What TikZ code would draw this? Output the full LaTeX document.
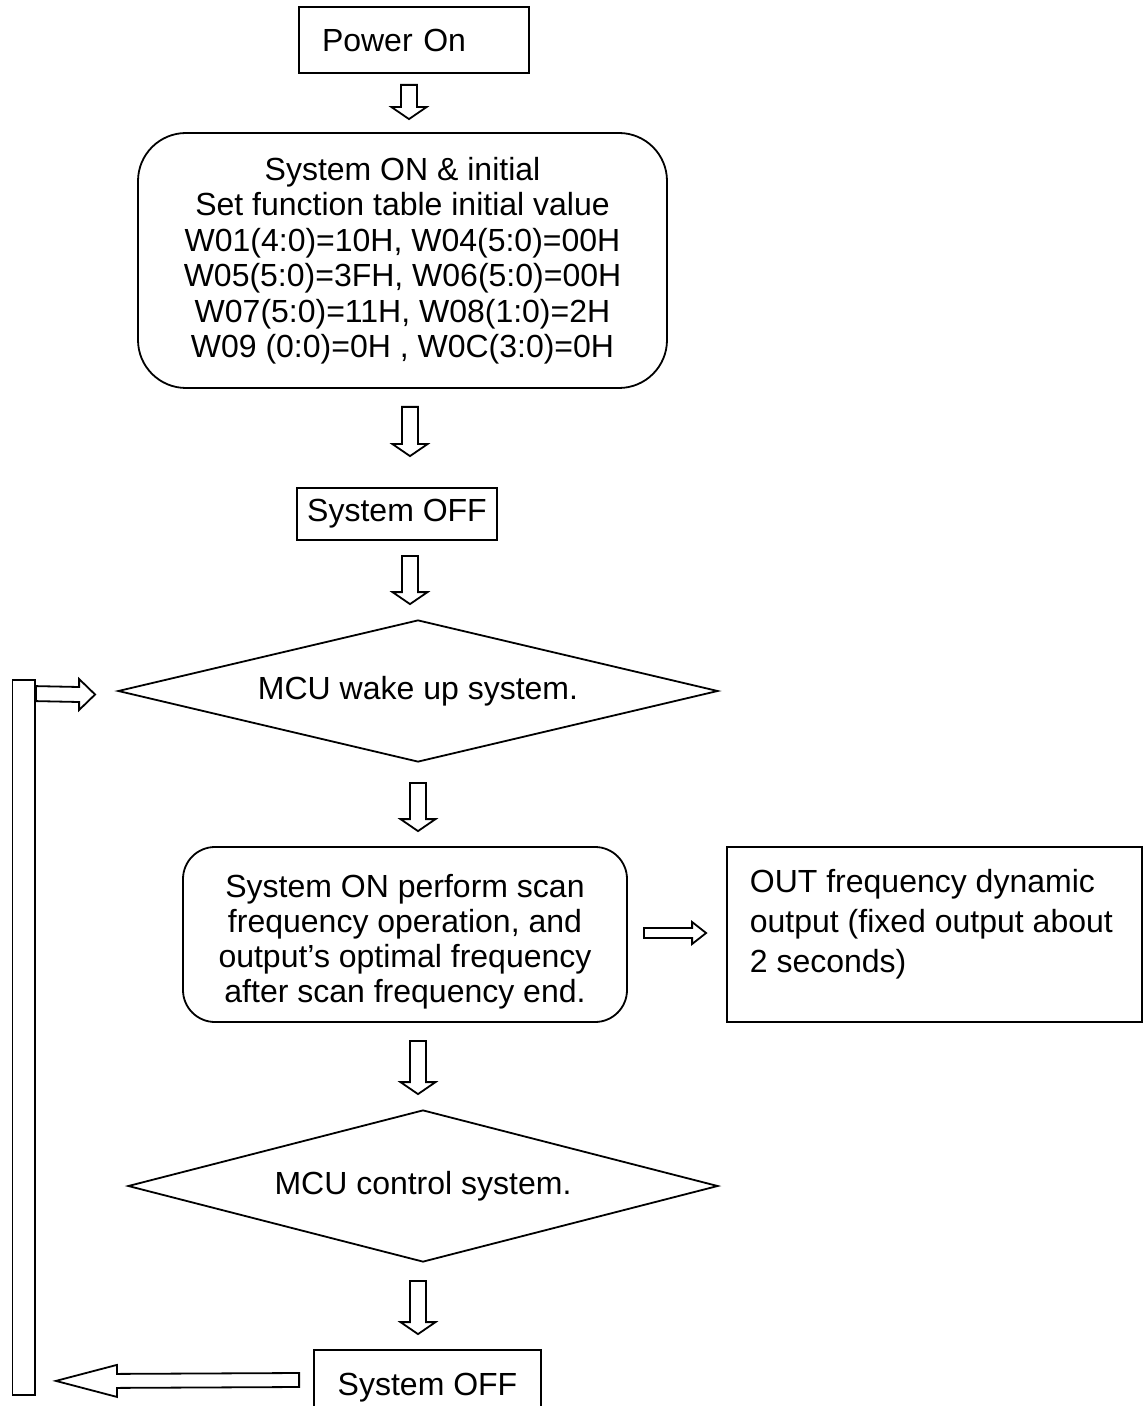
\documentclass[tikz,border=0pt]{standalone}
\usepackage{fontspec}
\setmainfont{Liberation Sans}
\usetikzlibrary{calc,shapes.geometric}
\lineskiplimit -20pt

\begin{document}
\begin{tikzpicture}
[x=0.5pt, y=-0.5pt, line width=0.9pt,
  base/.style={draw, inner sep=0pt, font=\fontsize{16}{19}\selectfont},
  plainbox/.style={base, rectangle},
  roundbox/.style={base, rectangle, rounded corners=#1},
  decision/.style={base, diamond, aspect=4},
  txt/.style={inner sep=0pt, font=\fontsize{16}{#1}\selectfont},
  hollow v/.style n args={3}{draw, to path={
    ($(\tikztostart)+(-#1,0)$) -- ($(\tikztotarget)+(-#1,#3)$) -- ($(\tikztotarget)+(-#2,#3)$)
    -- (\tikztotarget) -- ($(\tikztotarget)+(#2,#3)$) -- ($(\tikztotarget)+(#1,#3)$)
    -- ($(\tikztostart)+(#1,0)$) -- cycle}},
  hollow h/.style n args={3}{draw, to path={
    ($(\tikztostart)+(0,-#1)$) -- ($(\tikztotarget)+(#3,-#1)$) -- ($(\tikztotarget)+(#3,-#2)$)
    -- (\tikztotarget) -- ($(\tikztotarget)+(#3,#2)$) -- ($(\tikztotarget)+(#3,#1)$)
    -- ($(\tikztostart)+(0,#1)$) -- cycle}}]
\useasboundingbox (0,0) rectangle (1144,1406);

\node (power) at (414,40)[plainbox, minimum width=115pt, minimum height=33pt,
  text width=92pt, inner xsep=11.5pt, align=left] {Power On};
\node (init) at (402.5,260.5)[roundbox=24pt, minimum width=264.5pt, minimum height=127.5pt,
  align=center, font=\fontsize{16}{17.75}\selectfont]
  {System ON \& initial\\ Set function table initial value\\ W01(4:0)=10H, W04(5:0)=00H\\
   W05(5:0)=3FH, W06(5:0)=00H\\ W07(5:0)=11H, W08(1:0)=2H\\ W09 (0:0)=0H , W0C(3:0)=0H};
\node (sysoff) at (397,514)[plainbox, minimum width=100pt, minimum height=26pt] {System OFF};
\node (wake) at (418,691)[decision, minimum width=300pt, minimum height=71pt] {MCU wake up system.};
\node (scan) at (405,934.5)[roundbox=16pt, minimum width=222pt, minimum height=87.5pt] {};
\node (scantext) at (405,942)[txt=17.5, align=center]
  {System ON perform scan\\ frequency operation, and\\ output’s optimal frequency\\ after scan frequency end.};
\node (out) at (934.5,934.5)[plainbox, minimum width=207.5pt, minimum height=87.5pt] {};
\node (outtext) at (749,868)[txt=20, align=left, anchor=north west]
  {OUT frequency dynamic\\ output (fixed output about\\ 2 seconds)};
\node (ctrl) at (423,1186)[decision, minimum width=295pt, minimum height=76pt] {MCU control system.};
\node (sysoff2) at (427.5,1388)[plainbox, minimum width=113.5pt, minimum height=38pt] {System OFF};
\node (loopbar) at (23.75,1037.5)[draw, minimum width=11.25pt, minimum height=357.5pt] {};

% arrow ends
\coordinate (a1s) at ($(power.south)+(-5,11)$);
\coordinate (a1e) at ($(init.north)+(6.5,-13)$);
\coordinate (a2s) at ($(init.south)+(7.5,18)$);
\coordinate (a2e) at ($(sysoff.north)+(13,-31)$);
\coordinate (a3s) at ($(sysoff.south)+(13,15)$);
\coordinate (a3e) at ($(wake.north)+(-8,-15)$);
\coordinate (a4s) at ($(wake.south)+(0,20)$);
\coordinate (a4e) at ($(scan.north)+(13,-15)$);
\coordinate (a5s) at ($(scan.south)+(13,18)$);
\coordinate (a5e) at ($(ctrl.north)+(-5,-15)$);
\coordinate (a6s) at ($(ctrl.south)+(-5,18)$);
\coordinate (a6e) at ($(sysoff2.north)+(-9.5,-15)$);
\coordinate (outs) at ($(scan.east)+(16,-1.5)$);
\coordinate (oute) at ($(out.west)+(-20,-1.5)$);
\coordinate (backs) at ($(sysoff2.west)+(-14,-8)$);
\coordinate (backe) at ($(loopbar.south east)+(20,-15)$);
\coordinate (loops) at ($(loopbar.north east)+(0,14.5)$);
\coordinate (loope) at ($(wake.west)+(-22,3.5)$);

\draw[hollow v={8}{17.5}{-12}] (a1s) to (a1e);
\draw[hollow v={8}{17.5}{-12}] (a2s) to (a2e);
\draw[hollow v={8}{17.5}{-12}] (a3s) to (a3e);
\draw[hollow v={8}{17.5}{-12}] (a4s) to (a4e);
\draw[hollow v={8}{17.5}{-12}] (a5s) to (a5e);
\draw[hollow v={8}{17.5}{-12}] (a6s) to (a6e);
\draw[hollow h={5}{11}{-14}] (outs) to (oute);
\draw[hollow h={7}{16}{61}] (backs) to (backe);
\draw[hollow h={7.5}{15.5}{-16}] (loops) to (loope);

\end{tikzpicture}
\end{document}
